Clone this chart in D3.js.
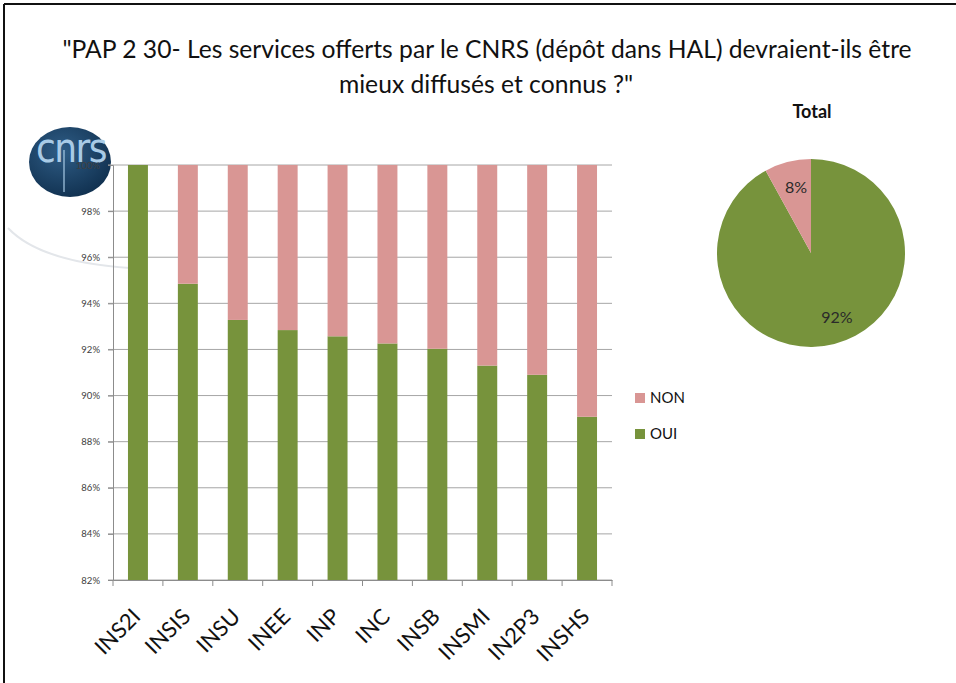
<!DOCTYPE html>
<html>
<head>
<meta charset="utf-8">
<script src="https://cdn.jsdelivr.net/npm/d3@7/dist/d3.min.js"></script>
<style>
  html, body { margin: 0; padding: 0; background: #fff; }
  svg { display: block; font-family: Lato, "Open Sans", "DejaVu Sans", sans-serif; }
</style>
</head>
<body>
<svg id="chart" width="956" height="683"></svg>
<script>
// ---- Data ----
const titleLines = ["\"PAP 2 30- Les services offerts par le CNRS (dépôt dans HAL) devraient-ils être", "mieux diffusés et connus ?\""];
const categories = ["INS2I", "INSIS", "INSU", "INEE", "INP", "INC", "INSB", "INSMI", "IN2P3", "INSHS"];
const ouiValues = [100, 94.85, 93.28, 92.84, 92.57, 92.26, 92.03, 91.3, 90.9, 89.08];
const nonValues = [0, 5.15, 6.72, 7.16, 7.43, 7.74, 7.97, 8.7, 9.1, 10.92];
const yTicks = [82, 84, 86, 88, 90, 92, 94, 96, 98, 100];
const seriesNames = ["NON", "OUI"];
const seriesColors = { NON: "#D99694", OUI: "#77933C" };
const pieTitle = "Total";
const pieLabels = ["OUI", "NON"];
const pieValues = [92, 8];

const svg = d3.select("#chart");

// frame
svg.append("line").attr("x1", 4).attr("x2", 956).attr("y1", 4).attr("y2", 4).attr("stroke", "#111").attr("stroke-width", 2);
svg.append("line").attr("x1", 4).attr("x2", 4).attr("y1", 4).attr("y2", 683).attr("stroke", "#111").attr("stroke-width", 2);

// faint decorative arc (slide template)
svg.append("path")
  .attr("d", "M 8 228 Q 40 262 130 268")
  .attr("fill", "none").attr("stroke", "#e3e6ea").attr("stroke-width", 2);

// CNRS logo
const defs = svg.append("defs");
const grad = defs.append("radialGradient").attr("id", "logoGrad").attr("cx", "40%").attr("cy", "35%").attr("r", "70%");
grad.append("stop").attr("offset", "0%").attr("stop-color", "#2f5d86");
grad.append("stop").attr("offset", "100%").attr("stop-color", "#10304f");
const logo = svg.append("g");
logo.append("ellipse").attr("cx", 70).attr("cy", 162).attr("rx", 41).attr("ry", 35).attr("fill", "url(#logoGrad)");
logo.append("text").attr("x", 71).attr("y", 162).attr("text-anchor", "middle")
  .attr("font-family", "'Liberation Sans Narrow', 'DejaVu Sans Condensed', sans-serif")
  .attr("font-size", 40).attr("fill", "#a9cbe6").attr("letter-spacing", -1.5).text("cnrs");
logo.append("line").attr("x1", 64).attr("x2", 64).attr("y1", 150).attr("y2", 192).attr("stroke", "#a9cbe6").attr("stroke-width", 1.2);

// Title
const title = svg.append("g");
const t1 = title.append("text").attr("x", 487).attr("y", 58).attr("text-anchor", "middle").attr("font-size", 21).attr("fill", "#111").text(titleLines[0]);
const t2 = title.append("text").attr("x", 486).attr("y", 93).attr("text-anchor", "middle").attr("font-size", 21).attr("fill", "#111").text(titleLines[1]);
const w1 = t1.node().getComputedTextLength();
const fs = 21 * 850 / w1;
t1.attr("font-size", fs); t2.attr("font-size", fs);

// Bar chart
const plot = { left: 113, right: 612, top: 165, bottom: 580 };
const x = d3.scaleBand().domain(categories).range([plot.left, plot.right]).paddingInner(0.6).paddingOuter(0.3);
const xb = d3.scaleBand().domain(categories).range([plot.left, plot.right]);
const y = d3.scaleLinear().domain([82, 100]).range([plot.bottom, plot.top]);

// gridlines
svg.append("g").selectAll("line").data(yTicks).join("line")
  .attr("x1", plot.left - 5).attr("x2", plot.right)
  .attr("y1", d => y(d)).attr("y2", d => y(d))
  .attr("stroke", "#a6a6a6").attr("stroke-width", 1);

// stacked bars
const rows = categories.map((c, i) => ({ cat: c, OUI: ouiValues[i], NON: nonValues[i] }));
const stacked = d3.stack().keys(["OUI", "NON"])(rows);
svg.append("g").selectAll("g").data(stacked).join("g")
  .attr("fill", d => seriesColors[d.key])
  .selectAll("rect").data(d => d).join("rect")
  .attr("x", d => x(d.data.cat))
  .attr("width", x.bandwidth())
  .attr("y", d => y(Math.min(100, d[1])))
  .attr("height", d => Math.max(0, y(Math.max(82, d[0])) - y(Math.min(100, d[1]))));

// y axis
const yAxis = svg.append("g").attr("transform", `translate(${plot.left},0)`)
  .call(d3.axisLeft(y).tickValues(yTicks).tickFormat(d => d + "%").tickSize(5).tickPadding(8));
yAxis.select(".domain").attr("stroke", "#8c8c8c");
yAxis.selectAll(".tick line").attr("stroke", "#8c8c8c");
yAxis.selectAll(".tick text").attr("font-size", 9.5).attr("fill", "#404040").attr("font-family", "'Liberation Sans Narrow', Lato, sans-serif");

// x axis
const xAxis = svg.append("g").attr("transform", `translate(0,${plot.bottom})`)
  .call(d3.axisBottom(xb).tickSize(0).tickFormat(""));
xAxis.select(".domain").attr("stroke", "#8c8c8c");
svg.append("g").selectAll("line").data(categories.concat(["__end"])).join("line")
  .attr("x1", (d, i) => i < categories.length ? xb(d) : plot.right)
  .attr("x2", (d, i) => i < categories.length ? xb(d) : plot.right)
  .attr("y1", plot.bottom).attr("y2", plot.bottom + 6)
  .attr("stroke", "#8c8c8c");
svg.append("g").selectAll("text").data(categories).join("text")
  .attr("transform", d => `translate(${xb(d) + xb.bandwidth() / 2 + 4},${plot.bottom + 38}) rotate(-45)`)
  .attr("text-anchor", "end")
  .attr("font-size", 22).attr("fill", "#111")
  .text(d => d);

// legend
const legend = svg.append("g");
seriesNames.forEach((s, i) => {
  const gy = 393 + i * 36;
  legend.append("rect").attr("x", 635).attr("y", gy).attr("width", 10).attr("height", 10).attr("fill", seriesColors[s]);
  legend.append("text").attr("x", 650).attr("y", gy + 10).attr("font-size", 15).attr("fill", "#111").text(s);
});

// Pie
const pieG = svg.append("g").attr("transform", "translate(811,253)");
const r = 94;
const arcs = d3.pie().sort(null).value(d => d)(pieValues);
const arc = d3.arc().innerRadius(0).outerRadius(r);
pieG.selectAll("path").data(arcs).join("path")
  .attr("d", arc)
  .attr("fill", (d, i) => seriesColors[pieLabels[i]]);
const labelPos = [[26, 63], [-15, -67]];
pieG.selectAll("text.pl").data(arcs).join("text").attr("class", "pl")
  .attr("x", (d, i) => labelPos[i][0]).attr("y", (d, i) => labelPos[i][1])
  .attr("text-anchor", "middle").attr("dominant-baseline", "central")
  .attr("font-size", 16).attr("fill", "#2a2a2a")
  .text(d => d.data + "%");
svg.append("text").attr("x", 812).attr("y", 118).attr("text-anchor", "middle")
  .attr("font-size", 18).attr("font-weight", "bold").attr("fill", "#111").text(pieTitle);
</script>
</body>
</html>
